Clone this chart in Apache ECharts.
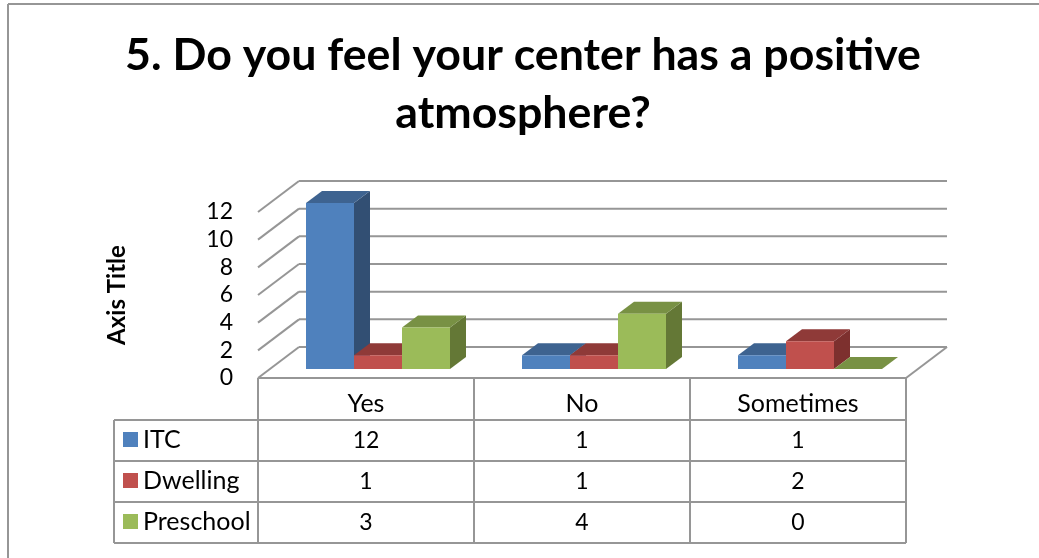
<!DOCTYPE html>
<html>
<head>
<meta charset="utf-8">
<style>
  html, body { margin: 0; padding: 0; background: #ffffff; }
  #chart { width: 1039px; height: 558px; }
</style>
<script src="https://cdn.jsdelivr.net/npm/echarts@6/dist/echarts.min.js"></script>
</head>
<body>
<div id="chart"></div>
<script>
const titleText = '5. Do you feel your center has a positive\natmosphere?'
const yAxisName = 'Axis Title'
const categories = ['Yes', 'No', 'Sometimes']
const yTicks = [0, 2, 4, 6, 8, 10, 12]
const seriesNames = ['ITC', 'Dwelling', 'Preschool']
const itcValues = [12, 1, 1]
const dwellingValues = [1, 1, 2]
const preschoolValues = [3, 4, 0]

const allValues = [itcValues, dwellingValues, preschoolValues]
// front, top, side
const shades = [
  ['#4f81bd', '#3e6390', '#324f73'],
  ['#c0504d', '#8f3a38', '#7d302e'],
  ['#9bbb59', '#789144', '#647836']
]
const lineColor = '#969696'
const font = 'Lato'

// perspective of the box, px
const depthX = 41
const depthY = -31
// bars sit inside the box
const barInsetX = 12
const barInsetY = -9
const barDepthX = 16
const barDepthY = -12
const barWidth = 48

const gridLeft = 258
const gridRight = 906
const gridTop = 212
const gridBottom = 378
const rowTops = [420, 461, 502]
const rowHeight = 41
const tableLeft = 114

const myChart = echarts.init(document.getElementById('chart'))

// walls of the box
const renderWalls = (params, api) => {
  const line = (x1, y1, x2, y2) => ({
    type: 'line',
    shape: { x1, y1, x2, y2 },
    style: { stroke: lineColor, lineWidth: 2 }
  })
  const p = api.coord([0, api.value(0)])
  const x0 = gridLeft
  const x1 = gridRight
  const children = [
    line(x0, p[1], x0 + depthX, p[1] + depthY),
    line(x0 + depthX, p[1] + depthY, x1 + depthX, p[1] + depthY)
  ]
  if (api.value(0) === 0) {
    children.push(line(x1, p[1], x1 + depthX, p[1] + depthY))
  }
  return { type: 'group', children }
}

// one 3d column
const makeBarRender = (index) => (params, api) => {
  const cat = api.value(0)
  const val = api.value(1)
  const top = api.coord([cat, val])
  const base = api.coord([cat, 0])
  const x = top[0] + (index - 1.5) * barWidth + barInsetX
  const yt = top[1] + barInsetY
  const yb = base[1] + barInsetY
  const w = barWidth
  const poly = (points, fill) => ({
    type: 'polygon',
    shape: { points },
    style: { fill, stroke: null }
  })
  const children = []
  if (val > 0) {
    children.push(poly([[x + w, yt], [x + w + barDepthX, yt + barDepthY], [x + w + barDepthX, yb + barDepthY], [x + w, yb]], shades[index][2]))
  }
  children.push(poly([[x, yt], [x + barDepthX, yt + barDepthY], [x + w + barDepthX, yt + barDepthY], [x + w, yt]], shades[index][1]))
  if (val > 0) {
    children.push(poly([[x, yt], [x + w, yt], [x + w, yb], [x, yb]], shades[index][0]))
  }
  return { type: 'group', children }
}

// data table under the plot
const renderTable = (params, api) => {
  const cat = api.value(0)
  const c = api.coord([cat, 0])
  const band = api.size([1, 0])[0]
  const children = []
  const line = (x1, y1, x2, y2) => ({
    type: 'line',
    shape: { x1, y1, x2, y2 },
    style: { stroke: lineColor, lineWidth: 2 }
  })
  children.push(line(c[0] + band / 2, gridBottom, c[0] + band / 2, rowTops[2] + rowHeight))
  allValues.forEach((vals, i) => {
    children.push({
      type: 'text',
      x: c[0],
      y: rowTops[i] + rowHeight / 2,
      style: {
        text: String(vals[cat]),
        fill: '#000000',
        font: '23px ' + font,
        align: 'center',
        verticalAlign: 'middle'
      }
    })
  })
  if (cat === 0) {
    children.push(line(gridLeft, gridBottom, gridLeft, rowTops[2] + rowHeight))
    children.push(line(tableLeft, rowTops[0], tableLeft, rowTops[2] + rowHeight))
    children.push(line(tableLeft, rowTops[0], gridRight, rowTops[0]))
    children.push(line(tableLeft, rowTops[1], gridRight, rowTops[1]))
    children.push(line(tableLeft, rowTops[2], gridRight, rowTops[2]))
    children.push(line(tableLeft, rowTops[2] + rowHeight, gridRight, rowTops[2] + rowHeight))
    children.push(line(gridLeft, gridBottom, gridRight, gridBottom))
  }
  return { type: 'group', children }
}

const barSeries = seriesNames.map((name, i) => ({
  name,
  type: 'custom',
  coordinateSystem: 'cartesian2d',
  renderItem: makeBarRender(i),
  itemStyle: { color: shades[i][0] },
  encode: { x: 0, y: 1 },
  z: 3,
  data: allValues[i].map((v, c) => [c, v])
}))

const option = {
  animation: false,
  backgroundColor: '#ffffff',
  textStyle: { fontFamily: font },
  title: {
    text: titleText,
    left: 518,
    top: 22,
    textAlign: 'center',
    textStyle: {
      fontFamily: font,
      fontSize: 44.7,
      fontWeight: 'bold',
      color: '#000000',
      lineHeight: 58
    }
  },
  legend: {
    orient: 'vertical',
    left: 123,
    top: 427,
    padding: 0,
    icon: 'rect',
    itemWidth: 15,
    itemHeight: 15,
    itemGap: 16,
    selectedMode: false,
    data: seriesNames,
    textStyle: { fontFamily: font, fontSize: 25, color: '#000000' }
  },
  grid: {
    left: gridLeft,
    right: 1039 - gridRight,
    top: gridTop,
    height: gridBottom - gridTop
  },
  xAxis: {
    type: 'category',
    data: categories,
    axisLine: { show: false },
    axisTick: { show: false },
    splitLine: { show: false },
    axisLabel: { fontFamily: font, fontSize: 25, color: '#000000', margin: 13 }
  },
  yAxis: {
    type: 'value',
    min: 0,
    max: 12,
    interval: 2,
    name: yAxisName,
    nameLocation: 'middle',
    nameGap: 129,
    nameRotate: 90,
    nameTextStyle: { fontFamily: font, fontSize: 24, fontWeight: 'bold', color: '#000000' },
    axisLine: { show: false },
    axisTick: { show: false },
    splitLine: { show: false },
    axisLabel: { fontFamily: font, fontSize: 23, color: '#000000', margin: 25, padding: [8, 0, 0, 0] }
  },
  graphic: [
    {
      type: 'line',
      silent: true,
      shape: { x1: 8, y1: 4, x2: 8, y2: 558 },
      style: { stroke: lineColor, lineWidth: 2 }
    },
    {
      type: 'line',
      silent: true,
      shape: { x1: 8, y1: 4, x2: 1039, y2: 4 },
      style: { stroke: lineColor, lineWidth: 2 }
    }
  ],
  series: [
    {
      type: 'custom',
      name: 'walls',
      coordinateSystem: 'cartesian2d',
      renderItem: renderWalls,
      encode: { y: 0 },
      z: 1,
      data: yTicks.map((v) => [v])
    },
    ...barSeries,
    {
      type: 'custom',
      name: 'table',
      coordinateSystem: 'cartesian2d',
      renderItem: renderTable,
      encode: { x: 0 },
      clip: false,
      z: 2,
      data: categories.map((c, i) => [i])
    }
  ]
}

myChart.setOption(option)
addEventListener('resize', () => {
  myChart.resize()
})
</script>
</body>
</html>
